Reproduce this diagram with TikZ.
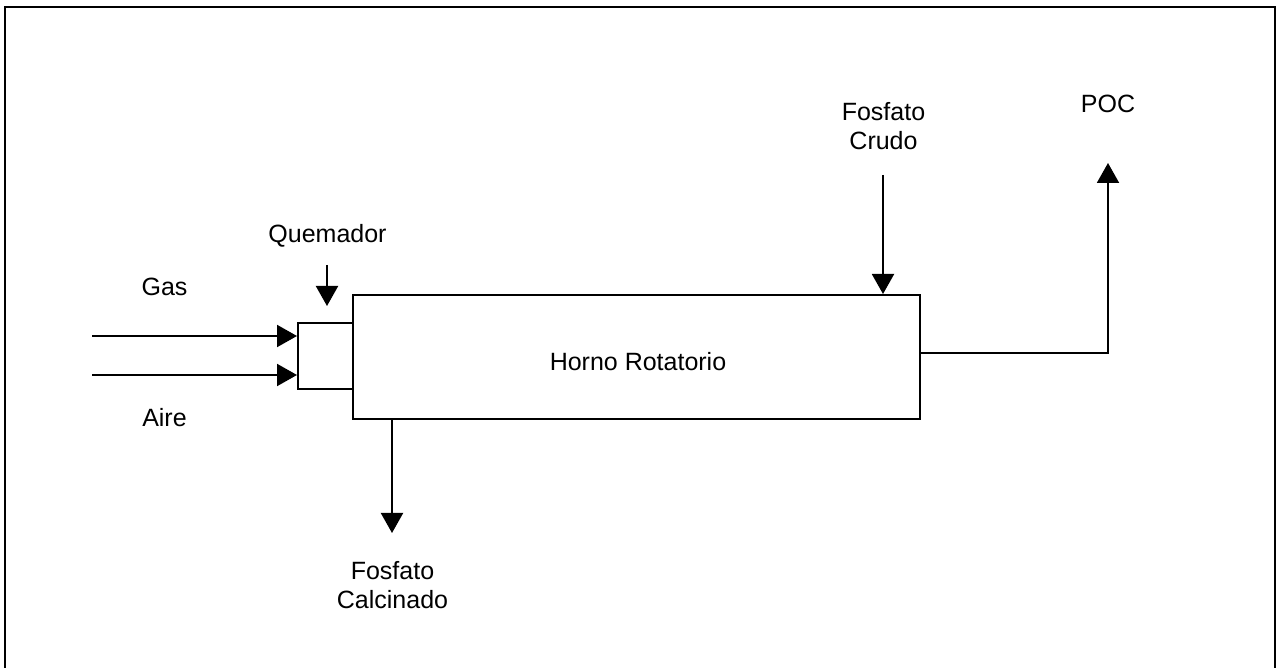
\documentclass[tikz,border=0pt]{standalone}
\usepackage{fontspec}
\setmainfont{Liberation Sans}
\usetikzlibrary{arrows.meta}
\tikzset{
  hrframe/.style={line width=1.2pt, draw=black},
  hrbox/.style={draw=black, line width=1pt, inner sep=0pt},
  hrflow/.style={line width=1pt, draw=black, -{Triangle[length=10pt,width=11pt]}},
  hrtext/.style={font=\fontsize{12.5}{14.5}\selectfont, align=center, inner sep=0pt},
}

\begin{document}
\begin{tikzpicture}[x=0.5pt,y=-0.5pt]
\useasboundingbox (0,0) rectangle (1276,668);
\draw[hrframe] (5,668) -- (5,7) -- (1275,7) -- (1275,668);
\node[hrbox, minimum width=283.5pt, minimum height=62pt] (horno) at (636.5,357) {};
\node[hrtext] (hornotext) at (638,361.5) {Horno Rotatorio};
\node[hrbox, minimum width=27.5pt, minimum height=33pt] (quem) at (325.5,356) {};
\node[hrtext, anchor=base] (gas) at (164.5,296) {Gas};
\node[hrtext, anchor=base] (aire) at (164.5,427) {Aire};
\node[hrtext, anchor=base] (quemtext) at (327.5,243) {Quemador};
\node[hrtext] (crudo) at (883.5,126.5) {Fosfato\\Crudo};
\node[hrtext, anchor=base] (poc) at (1108,113) {POC};
\node[hrtext] (calcinado) at (392.5,585) {Fosfato\\Calcinado};
\coordinate (gasin) at (92,336);
\coordinate (airein) at (92,375);
\coordinate (qtop) at (327,265);
\coordinate (qtip) at (327,306);
\coordinate (crudotop) at (883,175);
\coordinate (pocend) at (1108,163);
\coordinate (calctip) at (392,533);
\draw[hrflow] (gasin) -- (gasin -| quem.west);
\draw[hrflow] (airein) -- (airein -| quem.west);
\draw[hrflow] (qtop) -- (qtip);
\draw[hrflow] (crudotop) -- (crudotop |- horno.north);
\draw[hrflow] ([yshift=2pt]horno.east) -| (pocend);
\draw[hrflow] (calctip |- horno.south) -- (calctip);
\end{tikzpicture}
\end{document}
